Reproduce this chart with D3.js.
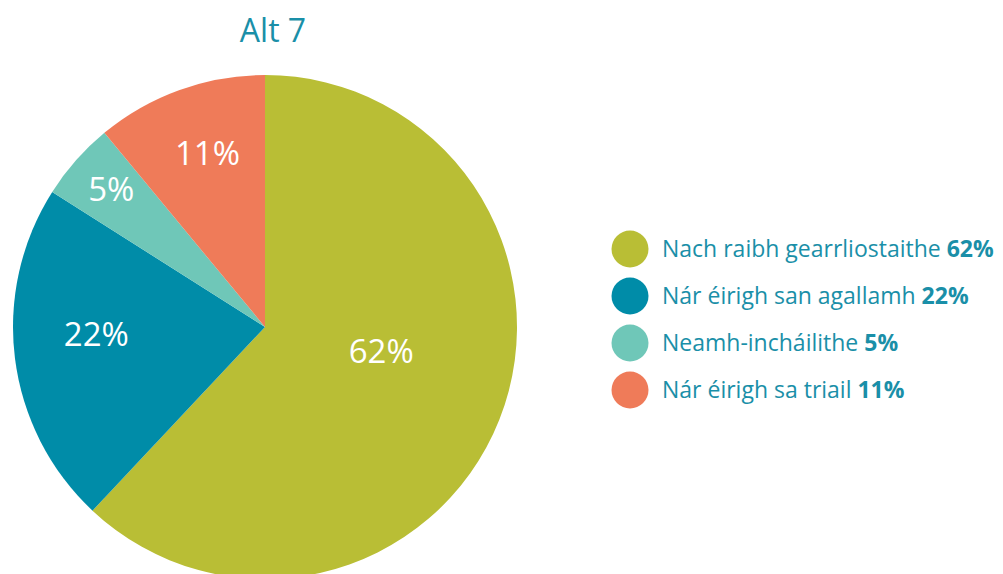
<!DOCTYPE html>
<html>
<head>
<meta charset="utf-8">
<script src="https://cdn.jsdelivr.net/npm/d3@7"></script>
<style>
  body { margin: 0; background: #fff; }
  text { font-family: "Open Sans", sans-serif; }
</style>
</head>
<body>
<script>
// data for the chart
var title = "Alt 7";
var categories = ["Nach raibh gearrliostaithe", "Nár éirigh san agallamh", "Neamh-incháilithe", "Nár éirigh sa triail"];
var values = [62, 22, 5, 11];
var colours = ["#b9be35", "#008ca8", "#6fc7b8", "#ef7b59"];

var width = 1003, height = 574;
var cx = 265, cy = 327, radius = 252;
var textColour = "#1a8fa8";

var svg = d3.select("body").append("svg")
    .attr("width", width)
    .attr("height", height);

svg.append("text")
    .attr("x", 273).attr("y", 42)
    .attr("text-anchor", "middle")
    .attr("fill", textColour)
    .style("font-size", "32px")
    .text(title);

var pie = d3.pie().sort(null).value(function(d) { return d; });
var arcs = pie(values);

var arc = d3.arc().innerRadius(0).outerRadius(radius);
// big slice label sits nearer the centre, thin slice further out
var labelArc = function(d) {
    var r = d.value > 50 ? 125 : (d.value < 8 ? 205 : 170);
    return d3.arc().innerRadius(r).outerRadius(r).centroid(d);
};
var labelShift = function(d) {
    return d.value > 50 ? -22 : (d.value < 8 ? -2 : -14);
};

var g = svg.append("g").attr("transform", "translate(" + cx + "," + cy + ")");

g.selectAll("path")
    .data(arcs)
  .enter().append("path")
    .attr("d", arc)
    .attr("fill", function(d, i) { return colours[i]; });

g.selectAll("text.lbl")
    .data(arcs)
  .enter().append("text")
    .attr("class", "lbl")
    .attr("transform", function(d) {
        var c = labelArc(d);
        return "translate(" + c[0] + "," + (c[1] + labelShift(d)) + ")";
    })
    .attr("text-anchor", "middle")
    .attr("dy", "0.36em")
    .attr("fill", "#fff")
    .style("font-size", "33px")
    .text(function(d) { return d.value + "%"; });

// legend
var legend = svg.append("g").attr("transform", "translate(630,249)");
var rows = legend.selectAll("g")
    .data(categories)
  .enter().append("g")
    .attr("transform", function(d, i) { return "translate(0," + (i * 47) + ")"; });

rows.append("circle")
    .attr("r", 18.5)
    .attr("fill", function(d, i) { return colours[i]; });

var lt = rows.append("text")
    .attr("x", 32)
    .attr("dy", "0.36em")
    .attr("fill", textColour)
    .style("font-size", "23px");
lt.append("tspan").text(function(d) { return d + " "; });
lt.append("tspan")
    .style("font-weight", "bold")
    .text(function(d, i) { return values[i] + "%"; });
</script>
</body>
</html>
